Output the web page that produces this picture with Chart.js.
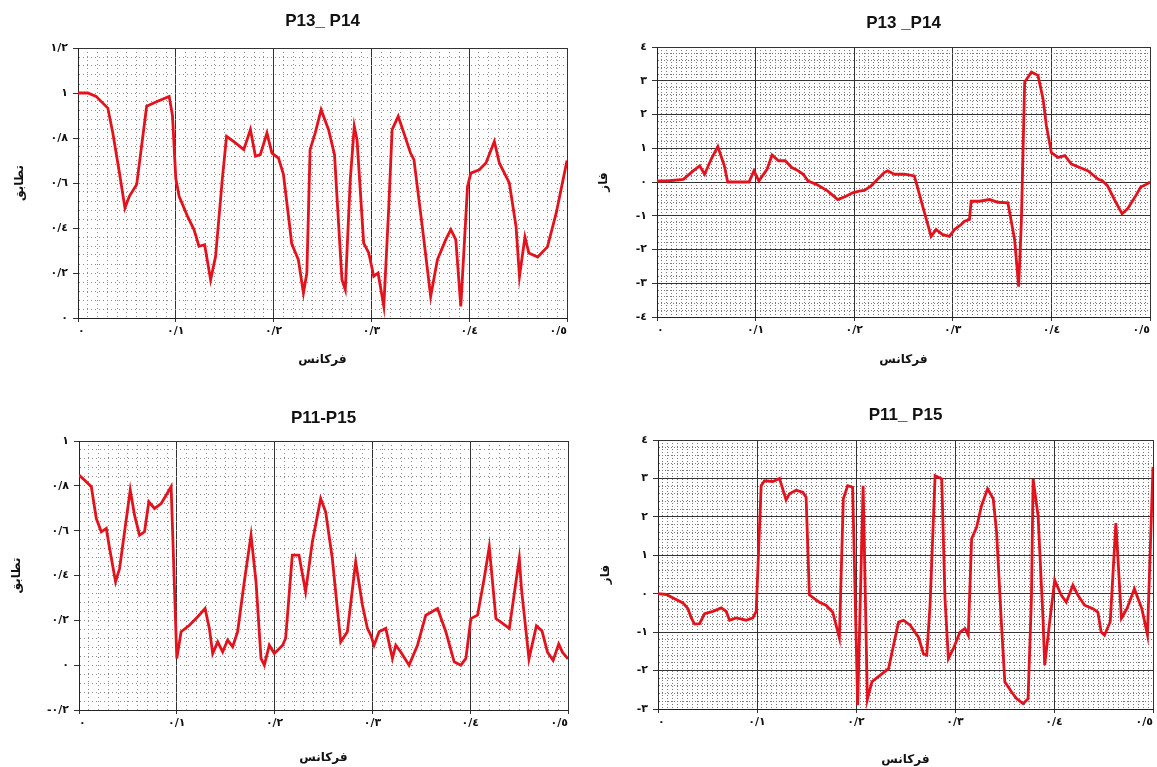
<!DOCTYPE html>
<html>
<head>
<meta charset="utf-8">
<script src="https://cdn.jsdelivr.net/npm/chart.js@4.4.1/dist/chart.umd.min.js"></script>
<style>
  body { margin: 0; background: #fff; width: 1157px; height: 767px; position: relative; overflow: hidden; }
  canvas { position: absolute; }
</style>
</head>
<body>
<canvas id="g1" width="580" height="380" style="left:0;top:0"></canvas>
<canvas id="g2" width="577" height="380" style="left:580px;top:0"></canvas>
<canvas id="g3" width="580" height="382" style="left:0;top:385px"></canvas>
<canvas id="g4" width="577" height="382" style="left:580px;top:385px"></canvas>
<script>
// DATOS

// P13_ P14 - تطابق
const frec1 = [0, 0.010, 0.0186, 0.0254, 0.0305, 0.0356, 0.0424, 0.048, 0.0525, 0.060, 0.0702, 0.0814, 0.0932, 0.0966, 0.1,
  0.1034, 0.112, 0.1186, 0.1237, 0.1295, 0.1356, 0.1407, 0.1475, 0.1519, 0.161, 0.1695, 0.1763, 0.1814, 0.1864, 0.1932, 0.1983,
  0.205, 0.210, 0.2153, 0.2185, 0.2253, 0.2305, 0.234, 0.2373, 0.2425, 0.2486, 0.2562, 0.2623, 0.2664, 0.2699, 0.2733, 0.2784,
  0.2825, 0.2853, 0.2921, 0.2973, 0.3024, 0.3068, 0.3127, 0.3178, 0.3212, 0.3274, 0.3332, 0.34, 0.3435, 0.352, 0.3606, 0.3675,
  0.376, 0.3812, 0.3863, 0.3914, 0.3983, 0.4017, 0.4103, 0.4171, 0.4257, 0.4308, 0.441, 0.4479, 0.4514, 0.457, 0.461, 0.470,
  0.480, 0.489, 0.5];
const val1 = [1.0, 1.0, 0.985, 0.955, 0.933, 0.822, 0.644, 0.489, 0.541, 0.593, 0.941, 0.963, 0.985, 0.90, 0.62,
  0.541, 0.452, 0.393, 0.319, 0.326, 0.170, 0.274, 0.615, 0.807, 0.778, 0.748, 0.837, 0.719, 0.726, 0.822, 0.733,
  0.711, 0.64, 0.45, 0.33, 0.259, 0.111, 0.2, 0.748, 0.822, 0.926, 0.837, 0.726, 0.422, 0.170, 0.126, 0.615,
  0.852, 0.793, 0.333, 0.289, 0.185, 0.2, 0.052, 0.496, 0.837, 0.896, 0.822, 0.733, 0.704, 0.407, 0.096, 0.259,
  0.348, 0.393, 0.348, 0.052, 0.585, 0.644, 0.659, 0.689, 0.785, 0.689, 0.6, 0.407, 0.185, 0.36, 0.289, 0.271,
  0.316, 0.467, 0.70];

// P13 _P14 - فاز
const frec2 = [0, 0.01, 0.0267, 0.0367, 0.0433, 0.0483, 0.055, 0.0617, 0.0683, 0.0717, 0.0833, 0.0933, 0.0983, 0.1033, 0.1117,
  0.1167, 0.1233, 0.13, 0.1367, 0.1433, 0.1483, 0.1533, 0.1617, 0.1733, 0.1833, 0.1917, 0.1983, 0.205, 0.2102, 0.2169, 0.2237,
  0.2305, 0.2339, 0.2407, 0.2508, 0.261, 0.2695, 0.278, 0.2831, 0.2898, 0.2966, 0.3017, 0.3085, 0.3119, 0.3169, 0.3186, 0.3271,
  0.3373, 0.3458, 0.3559, 0.3627, 0.3668, 0.3695, 0.3729, 0.3797, 0.3864, 0.3915, 0.3949, 0.4, 0.4068, 0.4136, 0.4203, 0.4288,
  0.4373, 0.4475, 0.451, 0.4567, 0.4642, 0.4717, 0.4774, 0.4849, 0.4906, 0.4944, 0.5];
const val2 = [0.03, 0.03, 0.08, 0.33, 0.48, 0.23, 0.68, 1.05, 0.48, 0.0, 0.0, 0.0, 0.33, 0.03, 0.38,
  0.8, 0.63, 0.63, 0.43, 0.33, 0.23, 0.03, -0.07, -0.27, -0.52, -0.42, -0.32, -0.27, -0.25, -0.12, 0.08,
  0.28, 0.33, 0.23, 0.23, 0.18, -0.72, -1.61, -1.41, -1.56, -1.61, -1.41, -1.26, -1.16, -1.11, -0.57, -0.57,
  -0.52, -0.6, -0.62, -1.71, -3.10, -1.21, 2.96, 3.26, 3.16, 2.47, 1.67, 0.87, 0.73, 0.78, 0.53, 0.43,
  0.33, 0.08, 0.05, -0.1, -0.54, -0.94, -0.79, -0.44, -0.15, -0.1, 0.0];

// P11-P15 - تطابق
const frec3 = [0, 0.0058, 0.0126, 0.0177, 0.0228, 0.0279, 0.0313, 0.0374, 0.0415, 0.0524, 0.0568, 0.0619, 0.067, 0.0714, 0.0772,
  0.084, 0.0891, 0.0942, 0.1, 0.1044, 0.1129, 0.1214, 0.1289, 0.1333, 0.1367, 0.1418, 0.1469, 0.152, 0.1571, 0.1622, 0.169,
  0.1759, 0.181, 0.1861, 0.1895, 0.1946, 0.1997, 0.2082, 0.2113, 0.2181, 0.2249, 0.2317, 0.2386, 0.2471, 0.2522, 0.259, 0.2676,
  0.2744, 0.2829, 0.2898, 0.2949, 0.2983, 0.3017, 0.3068, 0.3137, 0.3205, 0.3239, 0.329, 0.3375, 0.3461, 0.3546, 0.3666, 0.3751,
  0.3836, 0.3904, 0.3956, 0.4007, 0.4075, 0.4143, 0.4195, 0.4263, 0.4331, 0.44, 0.4468, 0.4502, 0.4525, 0.4601, 0.4677, 0.4734,
  0.479, 0.4848, 0.4905, 0.4943, 0.5];
const val3 = [0.848, 0.825, 0.796, 0.654, 0.595, 0.61, 0.52, 0.372, 0.431, 0.781, 0.669, 0.58, 0.595, 0.729, 0.699,
  0.721, 0.758, 0.796, 0.03, 0.149, 0.178, 0.216, 0.253, 0.164, 0.052, 0.104, 0.059, 0.112, 0.082, 0.149, 0.372,
  0.58, 0.372, 0.03, 0.0, 0.089, 0.052, 0.089, 0.12, 0.491, 0.491, 0.327, 0.55, 0.743, 0.684, 0.476, 0.104,
  0.149, 0.461, 0.268, 0.164, 0.134, 0.089, 0.149, 0.164, 0.03, 0.089, 0.059, 0.0, 0.089, 0.223, 0.253, 0.149,
  0.015, 0.0, 0.03, 0.208, 0.223, 0.387, 0.528, 0.208, 0.186, 0.164, 0.372, 0.476, 0.337, 0.028, 0.175, 0.153,
  0.058, 0.021, 0.094, 0.058, 0.028];

// P11_ P15 - فاز
const frec4 = [0, 0.0084, 0.0168, 0.0252, 0.0303, 0.0336, 0.037, 0.042, 0.0471, 0.0555, 0.0639, 0.0689, 0.0723, 0.079, 0.0891,
  0.0958, 0.0992, 0.1042, 0.1076, 0.116, 0.1227, 0.1294, 0.1328, 0.1395, 0.1462, 0.1496, 0.1529, 0.158, 0.163, 0.1697, 0.1765,
  0.1832, 0.1872, 0.1916, 0.1966, 0.2017, 0.2072, 0.2115, 0.2161, 0.2245, 0.2329, 0.2379, 0.243, 0.248, 0.2547, 0.2631, 0.2681,
  0.2715, 0.2748, 0.2799, 0.2866, 0.2899, 0.2933, 0.2983, 0.305, 0.3101, 0.3134, 0.3168, 0.3218, 0.3268, 0.3329, 0.3386, 0.342,
  0.347, 0.3503, 0.357, 0.3621, 0.3688, 0.3738, 0.3772, 0.3789, 0.3839, 0.3889, 0.3906, 0.3956, 0.4007, 0.4074, 0.4124, 0.4191,
  0.4242, 0.4309, 0.4393, 0.4443, 0.4477, 0.451, 0.4568, 0.4625, 0.4681, 0.4737, 0.4812, 0.4887, 0.4944, 0.5];
const val4 = [0, -0.02, -0.13, -0.24, -0.39, -0.63, -0.79, -0.78, -0.52, -0.46, -0.37, -0.46, -0.69, -0.63, -0.69,
  -0.63, -0.46, 2.81, 2.94, 2.92, 3.0, 2.44, 2.6, 2.69, 2.64, 2.51, -0.03, -0.13, -0.22, -0.3, -0.48,
  -1.15, 2.47, 2.81, 2.77, -2.9, 2.81, -2.75, -2.29, -2.12, -1.95, -1.34, -0.74, -0.69, -0.82, -1.13, -1.56,
  -1.6, -0.3, 3.07, 2.99, -0.13, -1.69, -1.43, -1.0, -0.91, -1.08, 1.43, 1.73, 2.29, 2.73, 2.47, 1.6,
  -0.82, -2.29, -2.55, -2.73, -2.86, -2.73, -0.13, 2.99, 2.03, -0.65, -1.86, -0.74, 0.35, -0.04, -0.22, 0.22,
  -0.04, -0.3, -0.39, -0.48, -1.0, -1.08, -0.73, 1.84, -0.64, -0.39, 0.13, -0.39, -1.07, 3.3];

// ETIQUETAS DE LOS EJES
const xTicks = [0, 0.1, 0.2, 0.3, 0.4, 0.5];
const xTickLabels = ['٠', '٠/١', '٠/٢', '٠/٣', '٠/٤', '٠/٥'];
const yTicks1 = [0, 0.2, 0.4, 0.6, 0.8, 1, 1.2];
const yTickLabels1 = ['٠', '٠/٢', '٠/٤', '٠/٦', '٠/٨', '١', '١/٢'];
const yTicks2 = [-4, -3, -2, -1, 0, 1, 2, 3, 4];
const yTickLabels2 = ['-٤', '-٣', '-٢', '-١', '٠', '١', '٢', '٣', '٤'];
const yTicks3 = [-0.2, 0, 0.2, 0.4, 0.6, 0.8, 1];
const yTickLabels3 = ['-٠/٢', '٠', '٠/٢', '٠/٤', '٠/٦', '٠/٨', '١'];
const yTicks4 = [-3, -2, -1, 0, 1, 2, 3, 4];
const yTickLabels4 = ['-٣', '-٢', '-١', '٠', '١', '٢', '٣', '٤'];

const ROJO = '#e3121c';
const FUENTE_NUM = { family: 'DejaVu Sans', size: 11, weight: 'bold' };
const FUENTE_FA = { family: 'DejaVu Sans', size: 12, weight: 'bold' };

function etiqueta(v, ticks, labels) {
  for (let i = 0; i < ticks.length; i++) {
    if (Math.abs(ticks[i] - v) < 1e-6) return labels[i];
  }
  return '';
}

function esMayor(c, lista) {
  if (!c.tick) return true;
  return lista.some((t) => Math.abs(t - c.tick.value) < 1e-6);
}

//CREAR GRAFICA
function crearGrafica(id, titulo, frec, vals, cfg) {
  let puntos = [];
  frec.forEach((f, i) => {
    puntos.push({ x: f, y: vals[i] });
  });

  new Chart(document.getElementById(id), {
    type: 'line',
    data: {
      datasets: [
        {
          data: puntos,
          borderColor: ROJO,
          borderWidth: 2.8,
          pointRadius: 0,
          tension: 0,
          fill: false,
        },
      ],
    },
    options: {
      responsive: false,
      animation: false,
      devicePixelRatio: 1,
      layout: { padding: { left: 0, right: cfg.padDer, top: 0, bottom: 0 } },
      plugins: {
        legend: { display: false },
        tooltip: { enabled: false },
        title: {
          display: true,
          text: titulo,
          fullSize: false,
          color: '#111',
          font: { family: 'Liberation Sans', size: 17, weight: 'bold' },
          padding: { top: cfg.titTop, bottom: cfg.titBottom },
        },
      },
      scales: {
        x: {
          type: 'linear',
          min: 0,
          max: 0.5,
          ticks: {
            stepSize: cfg.xPaso,
            autoSkip: false,
            maxTicksLimit: 200,
            maxRotation: 0,
            minRotation: 0,
            align: 'inner',
            padding: 3,
            color: '#111',
            font: FUENTE_NUM,
            callback: (v) => etiqueta(v, xTicks, xTickLabels),
          },
          grid: {
            color: (c) => (esMayor(c, xTicks) ? '#333' : cfg.colorMenor),
            lineWidth: 1,
            tickLength: 4,
            tickColor: (c) => (esMayor(c, xTicks) ? '#333' : 'rgba(0,0,0,0)'),
          },
          border: {
            color: '#222',
            width: 1,
            dash: (c) => (c.tick && !esMayor(c, xTicks) ? cfg.dashMenor : []),
          },
          title: {
            display: true,
            text: 'فرکانس',
            color: '#111',
            font: FUENTE_FA,
            padding: { top: 0, bottom: cfg.xTitBottom },
          },
          afterFit: (s) => {
            s.height = cfg.altoX;
            s.paddingLeft = 0;
            s.paddingRight = 0;
          },
        },
        y: {
          type: 'linear',
          min: cfg.yMin,
          max: cfg.yMax,
          ticks: {
            stepSize: cfg.yPaso,
            autoSkip: false,
            maxTicksLimit: 200,
            padding: 5,
            color: '#111',
            font: FUENTE_NUM,
            callback: (v) => etiqueta(v, cfg.yTicks, cfg.yLabels),
          },
          grid: {
            color: (c) => (esMayor(c, cfg.yLineas) ? '#333' : cfg.colorMenor),
            lineWidth: 1,
            tickLength: 5,
            tickColor: (c) => (esMayor(c, cfg.yTicks) ? '#333' : 'rgba(0,0,0,0)'),
          },
          border: {
            color: '#222',
            width: 1,
            dash: (c) => (c.tick && !esMayor(c, cfg.yLineas) ? cfg.dashMenor : []),
          },
          title: {
            display: true,
            text: cfg.yTitulo,
            color: '#111',
            font: FUENTE_FA,
            padding: { top: cfg.yTitPad, bottom: 0 },
          },
          afterFit: (s) => {
            s.width = cfg.anchoY;
            s.paddingTop = 0;
            s.paddingBottom = 0;
          },
        },
      },
    },
  });
}

crearGrafica('g1', 'P13_ P14', frec1, val1, {
  xPaso: 0.01, yMin: 0, yMax: 1.2, yPaso: 0.04, yTicks: yTicks1, yLabels: yTickLabels1, yLineas: [0, 1.2],
  yTitulo: 'تطابق', anchoY: 78, padDer: 13, altoX: 62, titTop: 11, titBottom: 16.6,
  xTitBottom: 13, yTitPad: 13, colorMenor: '#8c8c8c', dashMenor: [1, 3],
});

crearGrafica('g2', 'P13 _P14', frec2, val2, {
  xPaso: 0.005, yMin: -4, yMax: 4, yPaso: 0.2, yTicks: yTicks2, yLabels: yTickLabels2, yLineas: yTicks2,
  yTitulo: 'فاز', anchoY: 77, padDer: 7, altoX: 63, titTop: 13, titBottom: 13.6,
  xTitBottom: 13, yTitPad: 17, colorMenor: '#7a7a7a', dashMenor: [1, 2],
});

crearGrafica('g3', 'P11-P15', frec3, val3, {
  xPaso: 0.01, yMin: -0.2, yMax: 1, yPaso: 0.04, yTicks: yTicks3, yLabels: yTickLabels3, yLineas: [-0.2, 1],
  yTitulo: 'تطابق', anchoY: 79, padDer: 12, altoX: 57, titTop: 23, titBottom: 12.6,
  xTitBottom: 2, yTitPad: 10, colorMenor: '#8c8c8c', dashMenor: [1, 3],
});

crearGrafica('g4', 'P11_ P15', frec4, val4, {
  xPaso: 0.005, yMin: -3, yMax: 4, yPaso: 0.2, yTicks: yTicks4, yLabels: yTickLabels4, yLineas: yTicks4,
  yTitulo: 'فاز', anchoY: 78, padDer: 4, altoX: 58, titTop: 20, titBottom: 14.6,
  xTitBottom: 0, yTitPad: 19, colorMenor: '#7a7a7a', dashMenor: [1, 2],
});
</script>
</body>
</html>
